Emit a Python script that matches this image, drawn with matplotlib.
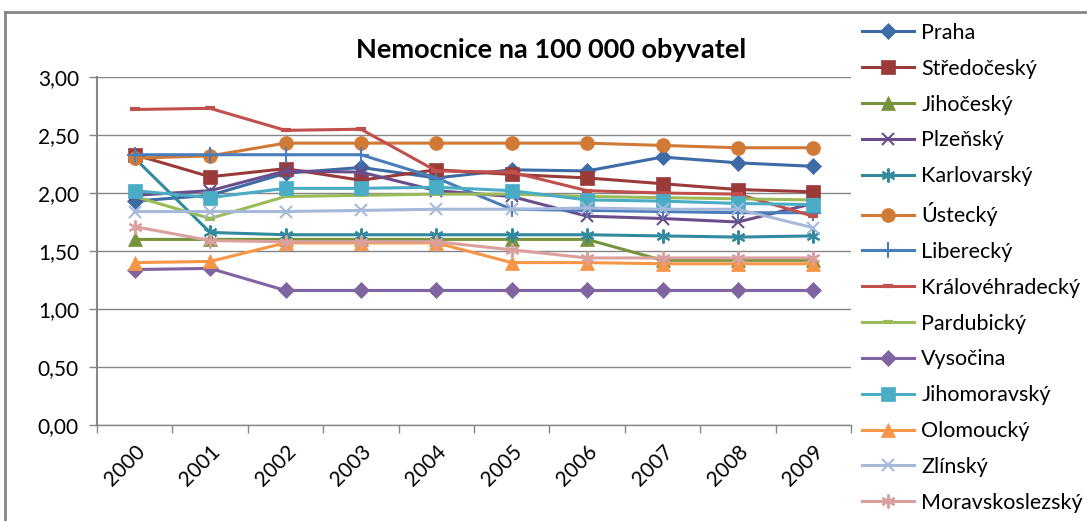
import matplotlib
matplotlib.use("Agg")
import matplotlib.pyplot as plt
from matplotlib.lines import Line2D
from matplotlib.ticker import FixedLocator
import numpy as np

years = ["2000", "2001", "2002", "2003", "2004", "2005", "2006", "2007", "2008", "2009"]

praha = [1.93, 1.98, 2.17, 2.22, 2.13, 2.20, 2.19, 2.31, 2.26, 2.23]
stredocesky = [2.33, 2.14, 2.21, 2.11, 2.20, 2.16, 2.13, 2.08, 2.03, 2.01]
jihocesky = [1.60, 1.60, 1.60, 1.60, 1.60, 1.60, 1.60, 1.42, 1.42, 1.42]
plzensky = [1.98, 2.02, 2.19, 2.18, 2.02, 1.97, 1.80, 1.78, 1.75, 1.91]
karlovarsky = [2.30, 1.66, 1.64, 1.64, 1.64, 1.64, 1.64, 1.63, 1.62, 1.63]
ustecky = [2.30, 2.32, 2.43, 2.43, 2.43, 2.43, 2.43, 2.41, 2.39, 2.39]
liberecky = [2.33, 2.33, 2.33, 2.33, 2.13, 1.86, 1.85, 1.84, 1.83, 1.83]
kralovehradecky = [2.72, 2.73, 2.54, 2.55, 2.19, 2.18, 2.02, 2.00, 1.99, 1.80]
pardubicky = [1.97, 1.78, 1.97, 1.98, 1.99, 1.99, 1.97, 1.96, 1.95, 1.94]
vysocina = [1.34, 1.35, 1.16, 1.16, 1.16, 1.16, 1.16, 1.16, 1.16, 1.16]
jihomoravsky = [2.02, 1.96, 2.04, 2.04, 2.05, 2.02, 1.94, 1.93, 1.91, 1.90]
olomoucky = [1.40, 1.41, 1.57, 1.57, 1.57, 1.40, 1.40, 1.39, 1.39, 1.39]
zlinsky = [1.84, 1.84, 1.84, 1.85, 1.86, 1.86, 1.87, 1.86, 1.86, 1.70]
moravskoslezsky = [1.71, 1.59, 1.58, 1.58, 1.58, 1.51, 1.44, 1.44, 1.44, 1.44]

series = [
    ("Praha", praha, "#3D6BA6", "D", 8),
    ("Středočeský", stredocesky, "#9A3B39", "s", 10),
    ("Jihočeský", jihocesky, "#77933C", "^", 10),
    ("Plzeňský", plzensky, "#6A4E8C", "x", 9),
    ("Karlovarský", karlovarsky, "#318A9E", (6, 2, 0), 10),
    ("Ústecký", ustecky, "#D07A35", "o", 10),
    ("Liberecký", liberecky, "#4A7EBB", "+", 12),
    ("Královéhradecký", kralovehradecky, "#C0504D", "_", 7),
    ("Pardubický", pardubicky, "#9BBB59", "_", 7),
    ("Vysočina", vysocina, "#8064A2", "D", 8),
    ("Jihomoravský", jihomoravsky, "#4BACC6", "s", 10),
    ("Olomoucký", olomoucky, "#F79646", "^", 10),
    ("Zlínský", zlinsky, "#A7B9DA", "x", 9),
    ("Moravskoslezský", moravskoslezsky, "#D9A09E", (6, 2, 0), 10),
]

plt.rcParams["font.family"] = ["Lato", "DejaVu Sans"]
grey = "#868686"

fig = plt.figure(figsize=(10.87, 5.21), dpi=100)
ax = fig.add_axes([97 / 1087, 1 - 425 / 521, 754 / 1087, 348 / 521])

x = np.arange(len(years))
handles = []
for name, vals, col, mk, ms in series:
    filled = mk in ("D", "s", "^", "o")
    mew = 1.5 if not filled else 0.5
    if mk == "_":
        mew = 3
    (ln,) = ax.plot(x, vals, color=col, lw=2.2, marker=mk, markersize=ms,
                    markerfacecolor=col, markeredgecolor=col, markeredgewidth=mew,
                    label=name, clip_on=False)
    handles.append(ln)

ax.set_xlim(-0.5, len(years) - 0.5)
ax.set_ylim(0, 3)
ax.set_yticks(np.arange(0, 3.01, 0.5))
ax.set_yticklabels([f"{v:.2f}".replace(".", ",") for v in np.arange(0, 3.01, 0.5)])
ax.set_xticks(x)
ax.set_xticklabels(years, rotation=45, ha="right", va="top", rotation_mode="anchor")
ax.xaxis.set_minor_locator(FixedLocator(np.arange(-0.5, len(years), 1.0)))
ax.tick_params(axis="x", which="major", length=0, labelsize=15, pad=12)
ax.tick_params(axis="x", which="minor", length=6, color=grey, width=1)
ax.tick_params(axis="y", length=6, color=grey, width=1, labelsize=15, pad=7)
ax.grid(axis="y", color=grey, lw=1)
ax.set_axisbelow(True)
for s in ("top", "right"):
    ax.spines[s].set_visible(False)
for s in ("left", "bottom"):
    ax.spines[s].set_color(grey)
    ax.spines[s].set_linewidth(1.5 if s == "left" else 1)

fig.text(551 / 1087, 1 - 50 / 521, "Nemocnice na 100 000 obyvatel",
         ha="center", va="center", fontsize=19.5, fontweight="bold")

fig.legend(handles=handles, loc="upper left", bbox_to_anchor=(862 / 1087, 1 - 23 / 521),
           frameon=False, fontsize=15.5, handlelength=2.42, handletextpad=0.33,
           labelspacing=0.735, borderaxespad=0, borderpad=0)

# chart border (top and left visible)
fig.add_artist(Line2D([5 / 1087, 1], [1 - 12 / 521, 1 - 12 / 521], color=grey, lw=2,
                      transform=fig.transFigure))
fig.add_artist(Line2D([5 / 1087, 5 / 1087], [0, 1 - 12 / 521], color=grey, lw=2,
                      transform=fig.transFigure))

fig.savefig("out.png", dpi=100)
